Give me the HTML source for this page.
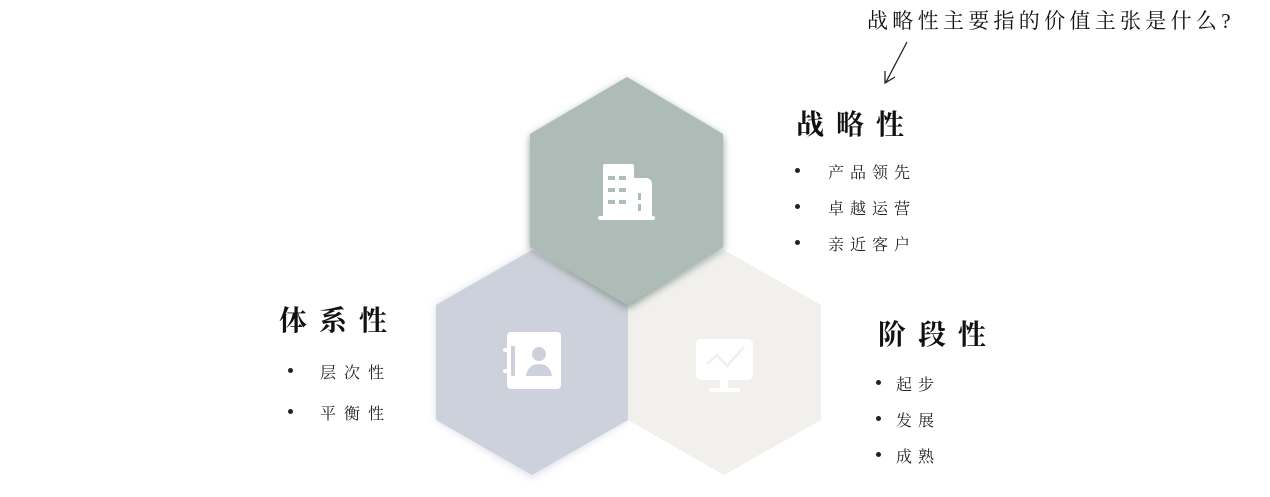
<!DOCTYPE html>
<html><head><meta charset="utf-8"><style>
html,body{margin:0;padding:0;background:#fff;}
body{width:1270px;height:497px;position:relative;overflow:hidden;font-family:"Liberation Serif","Noto Serif CJK SC",serif;color:#111;}
.t{position:absolute;white-space:nowrap;line-height:1;}
.h{font-size:28px;letter-spacing:12px;font-weight:bold;}
.b{font-size:16px;color:#222;}
.dot{position:absolute;width:5px;height:5px;border-radius:50%;background:#222;}
</style></head><body>
<svg width="1270" height="497" style="position:absolute;left:0;top:0">
<defs>
<filter id="sh" x="-20%" y="-20%" width="140%" height="140%"><feGaussianBlur stdDeviation="4"/></filter>
</defs>
<polygon points="532,250 628,305 628,420 532,478 436,420 436,305" fill="#dde0ea" filter="url(#sh)"/>
<polygon points="532,250 628,305 628,420 532,475 436,420 436,305" fill="#cdd1db"/>
<polygon points="724,250 821,305 821,420 724,475 628,420 628,305" fill="#f1f0ec"/>
<polygon points="627,80 723,137 723,249 627,309 530,249 530,137" fill="#8f9d97" filter="url(#sh)"/>
<polygon points="627,77 723,134 723,247 627,305 530,247 530,134" fill="#adbcb6"/>
<g fill="#fff">
<rect x="603" y="164" width="31" height="54" rx="2"/>
<path d="M634 178 h12 a6 6 0 0 1 6 6 v34 h-18z"/>
<rect x="598" y="216" width="57" height="4" rx="2"/>
</g>
<g fill="#adbcb6">
<rect x="608" y="176" width="7" height="4"/><rect x="619" y="176" width="7" height="4"/>
<rect x="608" y="188" width="7" height="4"/><rect x="619" y="188" width="7" height="4"/>
<rect x="608" y="200" width="7" height="4"/><rect x="619" y="200" width="7" height="4"/>
<rect x="638" y="193" width="3" height="7"/><rect x="638" y="204" width="3" height="7"/>
</g>
<g fill="#fff">
<rect x="507" y="332" width="54" height="57" rx="4"/>
<rect x="503" y="348" width="8" height="4" rx="2"/><rect x="503" y="369" width="8" height="4" rx="2"/>
</g>
<g fill="#cdd1db">
<rect x="511" y="346" width="4" height="30" />
<circle cx="539" cy="354" r="7"/>
<path d="M526 376 q2-12 13-12 q11 0 13 12z"/>
</g>
<g fill="#fff">
<rect x="696" y="339" width="57" height="41" rx="5"/>
<rect x="720" y="380" width="8" height="9"/>
<rect x="709" y="388" width="31" height="4" rx="1"/>
</g>
<polyline points="707,364 717,355 727,366 744,347" fill="none" stroke="#f1f0ec" stroke-width="2.5"/>
<line x1="907" y1="42" x2="886" y2="82" stroke="#222" stroke-width="1.3"/>
<polyline points="885,71 885,83 895,77" fill="none" stroke="#222" stroke-width="1.3"/>
</svg>
<div class="t" style="left:867px;top:11px;font-size:21px;letter-spacing:4.3px;">战略性主要指的价值主张是什么?</div>
<div class="t h" style="left:796px;top:112px;">战略性</div>
<div class="dot" style="left:795px;top:168px"></div><div class="t b" style="left:828px;top:166px;letter-spacing:6px">产品领先</div>
<div class="dot" style="left:795px;top:204px"></div><div class="t b" style="left:828px;top:202px;letter-spacing:6px">卓越运营</div>
<div class="dot" style="left:795px;top:240px"></div><div class="t b" style="left:828px;top:238px;letter-spacing:6px">亲近客户</div>
<div class="t h" style="left:279px;top:308px;">体系性</div>
<div class="dot" style="left:288px;top:368px"></div><div class="t b" style="left:320px;top:366px;letter-spacing:8px">层次性</div>
<div class="dot" style="left:288px;top:409px"></div><div class="t b" style="left:320px;top:407px;letter-spacing:8px">平衡性</div>
<div class="t h" style="left:878px;top:322px;">阶段性</div>
<div class="dot" style="left:876px;top:380px"></div><div class="t b" style="left:896px;top:378px;letter-spacing:6px">起步</div>
<div class="dot" style="left:876px;top:416px"></div><div class="t b" style="left:896px;top:414px;letter-spacing:6px">发展</div>
<div class="dot" style="left:876px;top:452px"></div><div class="t b" style="left:896px;top:450px;letter-spacing:6px">成熟</div>
</body></html>
